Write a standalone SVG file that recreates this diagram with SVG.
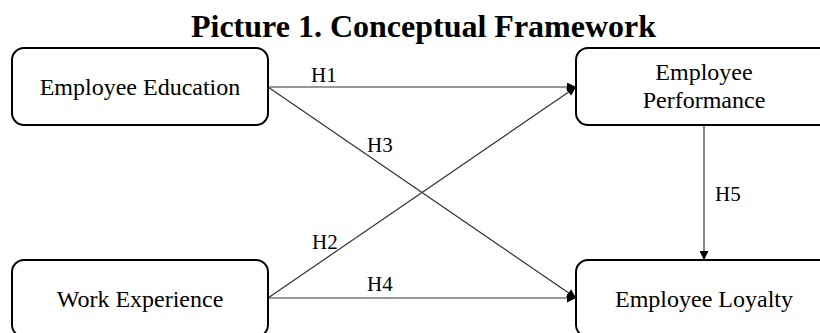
<svg xmlns="http://www.w3.org/2000/svg" width="820" height="333" viewBox="0 0 820 333">
  <defs>
    <marker id="arrow" viewBox="0 0 10 10" refX="10" refY="5" markerWidth="10" markerHeight="9" markerUnits="userSpaceOnUse" orient="auto">
      <path d="M0,0 L10,5 L0,10 Z" fill="#000"/>
    </marker>
    <style>
      .box { fill: #fff; stroke: #000; stroke-width: 2; }
      .node-text { font-family: "Liberation Serif", "Times New Roman", serif; font-size: 24px; fill: #000; text-anchor: middle; }
      .label { font-family: "Liberation Serif", "Times New Roman", serif; font-size: 21px; fill: #000; }
      .title { font-family: "Liberation Serif", "Times New Roman", serif; font-size: 32px; font-weight: bold; fill: #000; text-anchor: middle; }
      .edge { stroke: #333; stroke-width: 1.2; fill: none; marker-end: url(#arrow); }
    </style>
  </defs>
  <rect width="820" height="333" fill="#fff"/>

  <text class="title" x="423.5" y="37">Picture 1. Conceptual Framework</text>

  <!-- connectors -->
  <g id="connectors">
    <line class="edge" x1="268" y1="87" x2="576" y2="87"/>
    <line class="edge" x1="268" y1="87" x2="576" y2="298"/>
    <line class="edge" x1="268" y1="298" x2="576" y2="87"/>
    <line class="edge" x1="268" y1="298" x2="576" y2="298"/>
    <line class="edge" x1="704" y1="125" x2="704" y2="260"/>
    <text class="label" x="311" y="82">H1</text>
    <text class="label" x="367" y="152">H3</text>
    <text class="label" x="312" y="249">H2</text>
    <text class="label" x="367" y="291">H4</text>
    <text class="label" x="715" y="201">H5</text>
  </g>

  <g id="employee-education">
    <rect class="box" x="12" y="48" width="256" height="77" rx="12"/>
    <text class="node-text" x="140" y="95">Employee Education</text>
  </g>

  <g id="employee-performance">
    <rect class="box" x="576" y="48" width="256" height="77" rx="12"/>
    <text class="node-text" x="704" y="80">Employee</text>
    <text class="node-text" x="704" y="108">Performance</text>
  </g>

  <g id="work-experience">
    <rect class="box" x="12" y="260" width="256" height="77" rx="12"/>
    <text class="node-text" x="140" y="307">Work Experience</text>
  </g>

  <g id="employee-loyalty">
    <rect class="box" x="576" y="260" width="256" height="77" rx="12"/>
    <text class="node-text" x="704" y="307">Employee Loyalty</text>
  </g>
</svg>
